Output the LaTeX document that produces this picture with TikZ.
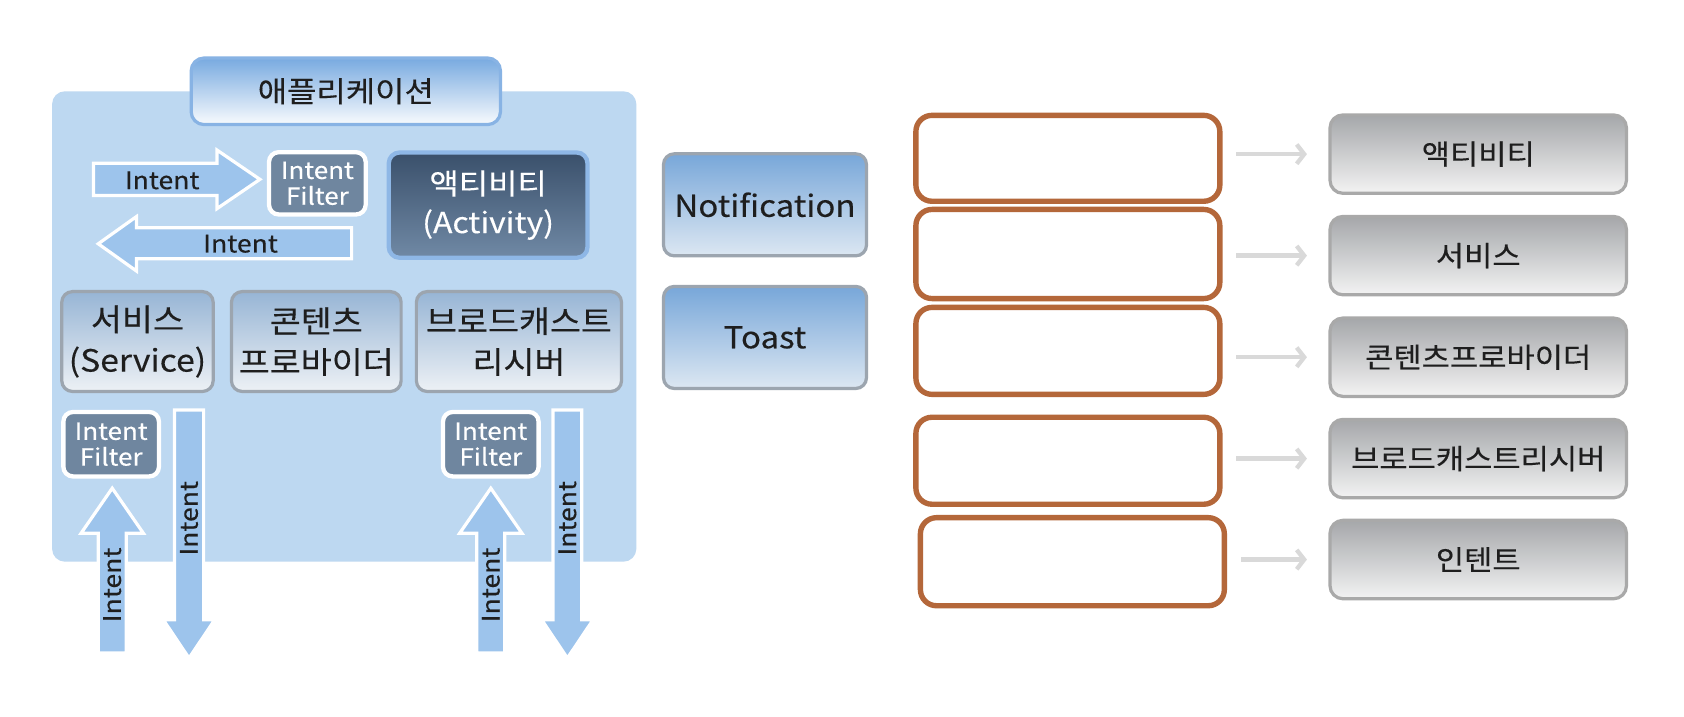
\documentclass[tikz,border=0pt]{standalone}
\usepackage{fontspec}
\setmainfont{Noto Sans CJK KR}[FakeStretch=1.1, FakeBold=0.3]
\usetikzlibrary{arrows.meta}
\definecolor{panelblue}{HTML}{BDD8F1}
\definecolor{arrowblue}{HTML}{9DC4EC}
\definecolor{ifgray}{HTML}{6F869F}
\definecolor{actTop}{HTML}{3A506B}
\definecolor{actBot}{HTML}{7089A5}
\definecolor{actBorder}{HTML}{8EB7E6}
\definecolor{rowTop}{HTML}{97B5D5}
\definecolor{rowBot}{HTML}{EDF1F5}
\definecolor{rowBorder}{HTML}{9CA5AF}
\definecolor{notTop}{HTML}{78A7D9}
\definecolor{notBot}{HTML}{DCE7F2}
\definecolor{grayTop}{HTML}{A5A7AA}
\definecolor{grayBot}{HTML}{F3F3F3}
\definecolor{grayBorder}{HTML}{A9A9A9}
\definecolor{orangeB}{HTML}{B4673A}
\definecolor{connGray}{HTML}{D9D9D9}
\definecolor{titleTop}{HTML}{78AAE0}
\definecolor{titleBorder}{HTML}{88B3E4}
\definecolor{txt}{HTML}{1E1E1E}
\tikzset{
  panelbox/.style={fill=panelblue, rounded corners=12pt, inner sep=0pt},
  titlebox/.style={draw=titleBorder, line width=3pt, top color=titleTop, bottom color=white!95!titleTop,
     rounded corners=12pt, inner sep=0pt, font=\fontsize{27}{36}\selectfont, text=txt},
  ifbox/.style={draw=white, line width=4pt, fill=ifgray, rounded corners=9pt, inner sep=0pt,
     align=center, text=white, font=\fontsize{22}{24}\selectfont},
  actbox/.style={draw=actBorder, line width=4pt, top color=actTop, bottom color=actBot,
     rounded corners=10pt, inner sep=0pt, align=center, text=white, font=\fontsize{27}{36}\selectfont},
  rowbox/.style={draw=rowBorder, line width=3pt, top color=rowTop, bottom color=rowBot,
     rounded corners=10pt, inner sep=0pt, align=center, text=txt, font=\fontsize{28.5}{38}\selectfont},
  notbox/.style={draw=rowBorder, line width=3pt, top color=notTop, bottom color=notBot,
     rounded corners=10pt, inner sep=0pt, align=center, text=txt, font=\fontsize{28}{34}\selectfont},
  graybox/.style={draw=grayBorder, line width=3pt, top color=grayTop, bottom color=grayBot,
     rounded corners=12pt, inner sep=0pt, align=center, text=txt, font=\fontsize{26}{32}\selectfont},
  orbox/.style={draw=orangeB, line width=5pt, fill=white, rounded corners=15pt, inner sep=0pt,
     minimum width=283pt},
  blockarrow/.style={draw=white, line width=3pt, fill=arrowblue, line join=miter},
  arrowtext/.style={text=txt, font=\fontsize{22.5}{26}\selectfont, inner sep=0pt},
  connarrow/.style={draw=connGray, line width=4pt, -{Straight Barb[length=7pt,width=18pt]}}
}
\begin{document}
\begin{tikzpicture}[x=1pt,y=-1pt]
\useasboundingbox[fill=white] (0,0) rectangle (1568,667);

% left panel
\node[panelbox, minimum width=544pt, minimum height=438pt] (panel) at (320.5,304) {};
\node[titlebox, minimum width=288pt, minimum height=62pt] (app) at (322,85) {애플리케이션};

% top arrows
\path[blockarrow] (87,152) -- (202,152) -- (202,139.7) -- (242,167) -- (202,194.3) -- (202,182) -- (87,182) -- cycle;
\path[blockarrow] (327.4,212) -- (127,212) -- (127,201.7) -- (91.5,227) -- (127,252.3) -- (127,241) -- (327.4,241) -- cycle;
\node[arrowtext] (t1) at (151,168) {Intent};
\node[arrowtext] (t2) at (224,227) {Intent};

\node[ifbox, minimum width=90pt, minimum height=58pt] (if1) at (295.5,170.7) {Intent\\Filter};
\node[actbox, minimum width=185pt, minimum height=98pt] (act) at (454.5,191) {액티비티\\(Activity)};

% component row
\node[rowbox, minimum width=141pt, minimum height=93pt] (svc) at (128,318) {서비스\\(Service)};
\node[rowbox, minimum width=158pt, minimum height=93pt] (cp) at (294.5,318) {콘텐츠\\프로바이더};
\node[rowbox, minimum width=191pt, minimum height=93pt] (br) at (483.2,318) {브로드캐스트\\리시버};

% bottom arrows
\path[blockarrow] (162.4,381.8) -- (189.6,381.8) -- (189.6,577) -- (200,577) -- (176,612.8) -- (152,577) -- (162.4,577) -- cycle;
\path[blockarrow] (91.5,608) -- (91.5,496.5) -- (75.5,496.5) -- (104.5,454.6) -- (133.5,496.5) -- (117.5,496.5) -- (117.5,608) -- cycle;
\path[blockarrow] (444,608) -- (444,496.5) -- (428,496.5) -- (457,454.6) -- (486,496.5) -- (470,496.5) -- (470,608) -- cycle;
\path[blockarrow] (515,381.8) -- (541.6,381.8) -- (541.6,577) -- (552.3,577) -- (528.3,612.8) -- (504.3,577) -- (515,577) -- cycle;
\node[arrowtext, rotate=90] (t3) at (176,482.6) {Intent};
\node[arrowtext, rotate=90] (t4) at (104.5,544.6) {Intent};
\node[arrowtext, rotate=90] (t5) at (457,544.6) {Intent};
\node[arrowtext, rotate=90] (t6) at (528.3,482.6) {Intent};

\node[ifbox, minimum width=89pt, minimum height=60pt] (if2) at (103.5,413.6) {Intent\\Filter};
\node[ifbox, minimum width=89pt, minimum height=60pt] (if3) at (457,413.6) {Intent\\Filter};

% notification / toast
\node[notbox, minimum width=189pt, minimum height=95pt] (notif) at (712.3,190.7) {Notification};
\node[notbox, minimum width=189pt, minimum height=95pt] (toast) at (712.3,314.2) {Toast};

% orange answer boxes
\node[orbox, minimum height=80pt] (o1) at (994.3,147.4) {};
\node[orbox, minimum height=83pt] (o2) at (994.3,236.5) {};
\node[orbox, minimum height=81pt] (o3) at (994.3,326.7) {};
\node[orbox, minimum height=81pt] (o4) at (994.3,429) {};
\node[orbox, minimum height=82pt] (o5) at (998.5,523) {};

% gray boxes
\node[graybox, minimum width=276pt, minimum height=73pt] (g1) at (1376.4,143.5) {액티비티};
\node[graybox, minimum width=276pt, minimum height=73pt] (g2) at (1376.4,238) {서비스};
\node[graybox, minimum width=276pt, minimum height=73pt] (g3) at (1376.4,332.6) {콘텐츠프로바이더};
\node[graybox, minimum width=276pt, minimum height=73pt] (g4) at (1376.4,427) {브로드캐스트리시버};
\node[graybox, minimum width=276pt, minimum height=73pt] (g5) at (1376.4,521) {인텐트};

% connectors
\foreach \o/\g in {o1/g1,o2/g2,o3/g3,o4/g4,o5/g5}{
  \draw[connarrow, shorten <=13pt, shorten >=20pt] (\o.east |- \g.west) -- (\g.west);
}
\end{tikzpicture}
\end{document}
